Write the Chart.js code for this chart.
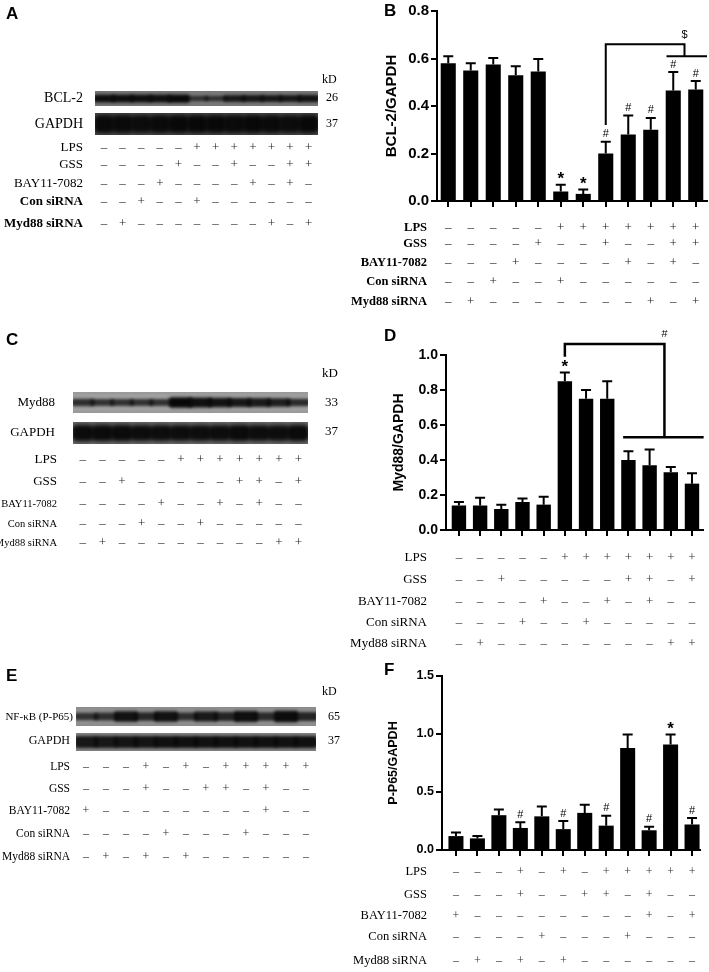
<!DOCTYPE html>
<html>
<head>
<meta charset="utf-8">
<script src="https://cdn.jsdelivr.net/npm/chart.js@4.4.1/dist/chart.umd.min.js"></script>
<style>
  html, body { margin: 0; padding: 0; background: #fff; }
  #fig { position: relative; width: 709px; height: 972px; overflow: hidden; }
  canvas { position: absolute; }
</style>
</head>
<body>
<div id="fig"></div>
<script>
// ---- values (bar means and upper error lengths) ----
const bcl2Mean = [0.58, 0.55, 0.575, 0.53, 0.545, 0.04, 0.03, 0.20, 0.28, 0.30, 0.465, 0.47];
const bcl2Err  = [0.03, 0.03, 0.027, 0.037, 0.053, 0.028, 0.018, 0.05, 0.08, 0.05, 0.078, 0.035];
const bcl2Marks = ['', '', '', '', '', '*', '*', '#', '#', '#', '#', '#'];

const myd88Mean = [0.14, 0.14, 0.12, 0.16, 0.145, 0.85, 0.75, 0.75, 0.40, 0.37, 0.33, 0.265];
const myd88Err  = [0.02, 0.045, 0.025, 0.02, 0.045, 0.05, 0.05, 0.10, 0.05, 0.09, 0.03, 0.06];
const myd88Marks = ['', '', '', '', '', '*', '', '', '', '', '', ''];

const p65Mean = [0.12, 0.10, 0.30, 0.19, 0.29, 0.18, 0.32, 0.21, 0.88, 0.17, 0.91, 0.22];
const p65Err  = [0.03, 0.02, 0.05, 0.05, 0.085, 0.07, 0.07, 0.085, 0.115, 0.03, 0.085, 0.055];
const p65Marks = ['', '', '', '#', '', '#', '', '#', '', '#', '*', '#'];

// treatment tables (+ / –), one array per row
const rowNames = ['LPS', 'GSS', 'BAY11-7082', 'Con siRNA', 'Myd88 siRNA'];
const treatBcl2 = [
  '- - - - - + + + + + + +'.split(' '),
  '- - - - + - - + - - + +'.split(' '),
  '- - - + - - - - + - + -'.split(' '),
  '- - + - - + - - - - - -'.split(' '),
  '- + - - - - - - - + - +'.split(' '),
];
const treatMyd88 = [
  '- - - - - + + + + + + +'.split(' '),
  '- - + - - - - - + + - +'.split(' '),
  '- - - - + - - + - + - -'.split(' '),
  '- - - + - - + - - - - -'.split(' '),
  '- + - - - - - - - - + +'.split(' '),
];
const treatP65Blot = [
  '- - - + - + - + + + + +'.split(' '),
  '- - - + - - + + - + - -'.split(' '),
  '+ - - - - - - - - + - -'.split(' '),
  '- - - - + - - - + - - -'.split(' '),
  '- + - + - + - - - - - -'.split(' '),
];
const treatP65 = [
  '- - - + - + - + + + + +'.split(' '),
  '- - - + - - + + - + - -'.split(' '),
  '+ - - - - - - - - + - +'.split(' '),
  '- - - - + - - - + - - -'.split(' '),
  '- + - + - + - - - - - -'.split(' '),
];

// western blot band densities per lane (0..1)
const bcl2Band   = [0.9, 0.9, 0.9, 0.9, 1.0, 0.35, 0.35, 0.7, 0.75, 0.75, 0.75, 0.8];
const gapdhBandA = [0.95, 0.95, 0.9, 0.95, 1.0, 1.0, 1.0, 0.95, 1.0, 0.95, 0.9, 1.0];
const myd88Band  = [0.5, 0.45, 0.45, 0.45, 0.45, 1.0, 0.9, 0.85, 0.8, 0.75, 0.7, 0.55];
const gapdhBandC = [0.95, 0.95, 0.95, 0.9, 0.9, 0.9, 0.9, 0.9, 0.95, 0.9, 0.9, 0.95];
const p65Band    = [0.4, 0.45, 0.85, 0.55, 0.85, 0.45, 0.75, 0.6, 0.9, 0.5, 0.95, 0.6];
const gapdhBandE = [0.75, 0.75, 0.8, 0.8, 0.85, 0.85, 0.85, 0.85, 0.85, 0.85, 0.85, 0.85];

const fig = document.getElementById('fig');
const SANS = '"Liberation Sans", Arial, sans-serif';
const SERIF = '"Liberation Serif", "Times New Roman", serif';
const sign = (s) => (s === '+' ? '+' : '\u2013');

function makeCanvas(left, top, w, h) {
  const c = document.createElement('canvas');
  c.width = w; c.height = h;
  c.style.left = left + 'px'; c.style.top = top + 'px';
  c.style.width = w + 'px'; c.style.height = h + 'px';
  fig.appendChild(c);
  return c;
}

// static labels go on one page-sized canvas underneath the charts
const page = makeCanvas(0, 0, 709, 972).getContext('2d');
function text(str, x, y, font, align, color) {
  page.font = font;
  page.textAlign = align || 'left';
  page.textBaseline = 'middle';
  page.fillStyle = color || '#000';
  page.fillText(str, x, y);
}
const letter = (ch, x, y) => text(ch, x, y, `bold 17px ${SANS}`);
const serif = (px, bold) => `${bold ? 'bold ' : ''}${px}px ${SERIF}`;

// ---------- blots: floating bars on a hidden lane scale, blurred ----------
const blotPlugin = {
  id: 'blot',
  beforeDraw(chart, args, o) {
    const { ctx, width, height } = chart;
    const g = ctx.createLinearGradient(0, 0, 0, height);
    g.addColorStop(0, o.edge); g.addColorStop(0.5, o.bg); g.addColorStop(1, o.edge);
    ctx.save(); ctx.fillStyle = g; ctx.fillRect(0, 0, width, height); ctx.restore();
  },
  beforeDatasetsDraw(chart, args, o) { chart.ctx.save(); chart.ctx.filter = `blur(${o.blur}px)`; },
  afterDatasetsDraw(chart) { chart.ctx.restore(); },
};

function blot(left, top, w, h, bands, o) {
  const c = makeCanvas(left, top, w, h);
  new Chart(c, {
    type: 'bar',
    data: {
      datasets: [{
        data: bands.map((v, i) => {
          const half = (o.minH + v * (o.maxH - o.minH)) / 2;
          return { x: i, y: [0.5 - half, 0.5 + half] };
        }),
        backgroundColor: bands.map((v) => `rgba(8,8,8,${0.55 + 0.45 * v})`),
        borderRadius: o.radius || 4,
        borderSkipped: false,
        barPercentage: 1.2,
        categoryPercentage: 1,
      }],
    },
    options: {
      responsive: false, animation: false, devicePixelRatio: 1,
      layout: { padding: 0 },
      scales: {
        x: { type: 'linear', min: -0.5, max: 11.5, offset: false, display: false },
        y: { min: 0, max: 1, display: false },
      },
      plugins: { legend: { display: false }, tooltip: { enabled: false },
        blot: { bg: o.bg, edge: o.edge, blur: o.blur } },
    },
    plugins: [blotPlugin],
  });
}

function leftTable(rows, colX0, step, rowY, labelRight, labelFonts, signFont) {
  rows.forEach((signs, r) => {
    text(rowNames[r], labelRight, rowY[r], labelFonts[r], 'right');
    signs.forEach((s, i) => text(sign(s), colX0 + i * step, rowY[r], signFont, 'center', '#2a2a2a'));
  });
}

// ---------- bar panels ----------
const statPlugin = {
  id: 'stat',
  afterDatasetsDraw(chart, args, o) {
    const { ctx, scales: { x, y } } = chart;
    ctx.save();
    ctx.strokeStyle = '#000'; ctx.fillStyle = '#000'; ctx.lineWidth = 2;
    o.means.forEach((m, i) => {
      const px = x.getPixelForValue(i);
      const y0 = y.getPixelForValue(m), y1 = y.getPixelForValue(m + o.errs[i]);
      ctx.beginPath();
      ctx.moveTo(px, y0); ctx.lineTo(px, y1);
      ctx.moveTo(px - o.cap, y1); ctx.lineTo(px + o.cap, y1);
      ctx.stroke();
      const mk = o.marks[i];
      if (mk) {
        ctx.font = mk === '*' ? `bold 17px ${SANS}` : `11px ${SANS}`;
        ctx.textAlign = 'center'; ctx.textBaseline = 'bottom';
        ctx.fillText(mk, px, y1 - (mk === '*' ? -3 : 2));
      }
    });
    ctx.lineWidth = o.bracketWidth || 2;
    (o.brackets || []).forEach((path) => {
      ctx.beginPath();
      path.forEach(([vx, vy], k) => {
        const X = x.getPixelForValue(vx), Y = y.getPixelForValue(vy);
        if (k) ctx.lineTo(X, Y); else ctx.moveTo(X, Y);
      });
      ctx.stroke();
    });
    (o.notes || []).forEach(([str, vx, vy, font]) => {
      ctx.font = font; ctx.textAlign = 'center'; ctx.textBaseline = 'bottom';
      ctx.fillText(str, x.getPixelForValue(vx), y.getPixelForValue(vy));
    });
    ctx.restore();
  },
  afterDraw(chart, args, o) {
    const { ctx, scales: { x } } = chart;
    ctx.save();
    ctx.textBaseline = 'middle'; ctx.textAlign = 'center';
    ctx.font = o.signFont; ctx.fillStyle = o.signColor;
    o.table.forEach((signs, r) => {
      signs.forEach((s, i) => ctx.fillText(sign(s), x.getPixelForValue(i), o.rowY[r]));
    });
    ctx.restore();
  },
};

function barPanel(top, h, p) {
  // row labels sit left of the chart canvas, on the page canvas
  p.rowY.forEach((ry, r) => text(rowNames[r], 427, top + ry, p.labelFont, 'right'));
  const c = makeCanvas(380, top, 329, h);
  new Chart(c, {
    type: 'bar',
    data: {
      datasets: [{
        data: p.means.map((v, i) => ({ x: i, y: v })),
        backgroundColor: '#000',
        barPercentage: p.barPct,
        categoryPercentage: 1,
      }],
    },
    options: {
      responsive: false, animation: false, devicePixelRatio: 1,
      layout: { padding: { top: p.plotTop, right: p.padRight, left: 0, bottom: 0 } },
      scales: {
        x: {
          type: 'linear', min: p.xMin, max: p.xMax, offset: false,
          afterBuildTicks: (s) => { s.ticks = p.means.map((_, i) => ({ value: i })); },
          afterFit: (s) => { s.height = h - p.plotBottom; },
          ticks: { display: false },
          grid: { offset: false, drawOnChartArea: false, drawTicks: true, tickLength: 6, color: '#000', lineWidth: 2 },
          border: { color: '#000', width: 2 },
        },
        y: {
          min: 0, max: p.yMax,
          afterFit: (s) => { s.width = p.axisX; },
          ticks: { stepSize: p.yStep, color: '#000', padding: 2,
            font: { family: SANS, weight: 'bold', size: p.tickSize },
            callback: (v) => v.toFixed(1) },
          grid: { drawOnChartArea: false, tickLength: 6, color: '#000', lineWidth: 2 },
          border: { color: '#000', width: 2 },
          title: { display: true, text: p.yTitle, color: '#000', padding: { top: p.titlePad, bottom: 0 },
            font: { family: SANS, weight: 'bold', size: p.titleSize } },
        },
      },
      plugins: {
        legend: { display: false }, tooltip: { enabled: false },
        stat: {
          means: p.means, errs: p.errs, marks: p.marks, cap: 5,
          brackets: p.brackets, notes: p.notes, bracketWidth: p.bracketWidth,
          table: p.table, rowY: p.rowY, signFont: p.signFont, signColor: p.signColor,
        },
      },
    },
    plugins: [statPlugin],
  });
}

// ===== Panel A =====
letter('A', 6, 14);
text('kD', 322, 80, serif(12));
text('BCL-2', 83, 98, serif(14), 'right');
text('GAPDH', 83, 124, serif(14), 'right');
text('26', 326, 98, serif(12));
text('37', 326, 124, serif(12));
leftTable(treatBcl2, 104, 18.6, [148, 165, 184, 202, 224], 83,
  [serif(13), serif(13), serif(13), serif(13, true), serif(13, true)], serif(13));
blot(95, 91, 223, 15, bcl2Band, { bg: '#8a8a8a', edge: '#757575', minH: 0.25, maxH: 0.55, blur: 1.8, radius: 3 });
blot(95, 113, 223, 22, gapdhBandA, { bg: '#5e5e5e', edge: '#4c4c4c', minH: 0.62, maxH: 0.85, blur: 2.2, radius: 6 });

// ===== Panel B =====
letter('B', 384, 11);
barPanel(0, 335, {
  means: bcl2Mean, errs: bcl2Err, marks: bcl2Marks,
  xMin: -0.5, xMax: 11.5, yMax: 0.8, yStep: 0.2, barPct: 0.67,
  plotTop: 7, plotBottom: 201, padRight: 2, axisX: 57, titlePad: 3,
  tickSize: 15, titleSize: 15, yTitle: 'BCL-2/GAPDH',
  brackets: [[[7, 0.32], [7, 0.66], [10.5, 0.66], [10.5, 0.61]], [[9.7, 0.61], [11.5, 0.61]]],
  notes: [['$', 10.5, 0.675, `11px ${SANS}`]],
  table: treatBcl2, rowY: [228, 244, 263, 282, 302],
  labelFont: serif(12.5, true), signFont: serif(13), signColor: '#222',
});

// ===== Panel C =====
letter('C', 6, 340);
text('kD', 322, 374, serif(13));
text('Myd88', 55, 403, serif(13), 'right');
text('GAPDH', 55, 433, serif(13), 'right');
text('33', 325, 403, serif(13));
text('37', 325, 432, serif(13));
leftTable(treatMyd88, 82.8, 19.6, [460, 482, 504, 524, 543], 57,
  [serif(13), serif(13), serif(10.5), serif(10.5), serif(10.5)], serif(13));
blot(73, 392, 235, 21, myd88Band, { bg: '#b0b0b0', edge: '#989898', minH: 0.2, maxH: 0.5, blur: 1.6, radius: 3 });
blot(73, 422, 235, 22, gapdhBandC, { bg: '#7e7e7e', edge: '#6c6c6c', minH: 0.58, maxH: 0.78, blur: 2.2, radius: 6 });

// ===== Panel D =====
letter('D', 384, 336);
barPanel(330, 335, {
  means: myd88Mean, errs: myd88Err, marks: myd88Marks,
  xMin: -0.61, xMax: 11.52, yMax: 1.0, yStep: 0.2, barPct: 0.68,
  plotTop: 25, plotBottom: 200, padRight: 6, axisX: 66, titlePad: 11,
  tickSize: 14, titleSize: 14, yTitle: 'Myd88/GAPDH',
  brackets: [[[5, 0.99], [5, 1.063], [9.7, 1.063], [9.7, 0.53]], [[7.75, 0.53], [11.55, 0.53]]],
  notes: [['#', 9.7, 1.09, `11px ${SANS}`]],
  bracketWidth: 2.5,
  table: treatMyd88, rowY: [228, 250, 272, 293, 314],
  labelFont: serif(13), signFont: serif(13), signColor: '#333',
});

// ===== Panel E =====
letter('E', 6, 676);
text('kD', 322, 692, serif(12));
text('NF-\u03BAB (P-P65)', 73, 717, serif(11), 'right');
text('GAPDH', 70, 741, serif(12), 'right');
text('65', 328, 717, serif(12));
text('37', 328, 741, serif(12));
leftTable(treatP65Blot, 86, 20, [767, 789, 811, 834, 857], 70,
  [serif(11.5), serif(11.5), serif(11.5), serif(11.5), serif(11.5)], serif(12));
blot(76, 707, 240, 19, p65Band, { bg: '#a2a2a2', edge: '#8a8a8a', minH: 0.25, maxH: 0.62, blur: 1.6, radius: 3 });
blot(76, 733, 240, 18, gapdhBandE, { bg: '#949494', edge: '#828282', minH: 0.52, maxH: 0.7, blur: 1.8, radius: 4 });

// ===== Panel F =====
letter('F', 384, 670);
barPanel(665, 307, {
  means: p65Mean, errs: p65Err, marks: p65Marks,
  xMin: -0.65, xMax: 11.37, yMax: 1.5, yStep: 0.5, barPct: 0.7,
  plotTop: 11, plotBottom: 185, padRight: 9, axisX: 62, titlePad: 6,
  tickSize: 12.5, titleSize: 12.5, yTitle: 'P-P65/GAPDH',
  brackets: [], notes: [],
  table: treatP65, rowY: [207, 230, 251, 272, 296],
  labelFont: serif(12.5), signFont: serif(12), signColor: '#333',
});
</script>
</body>
</html>
